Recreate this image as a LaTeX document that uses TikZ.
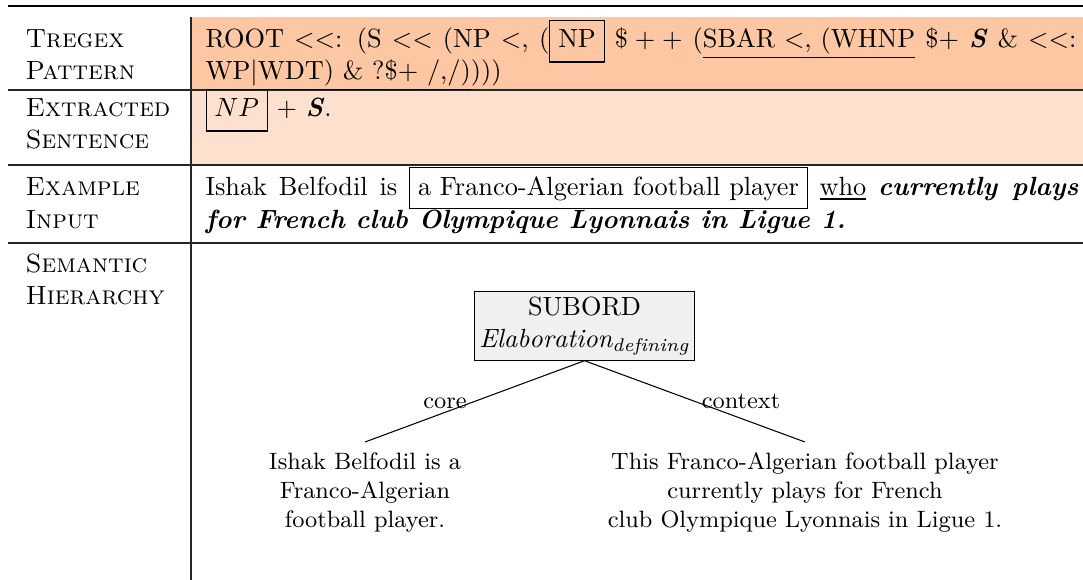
\documentclass[tikz,border=0pt]{standalone}
\usepackage{fontspec}
\definecolor{rowA}{RGB}{252,199,162}
\definecolor{rowB}{RGB}{253,225,206}
\definecolor{boxgray}{RGB}{240,240,240}
\newlength\pxu
\setlength\pxu{0.38pt}
\newcommand\bfit[1]{\textbf{\textit{#1}}}
\newcommand\llt{\textless\kern0pt\textless}
\newcommand\dfbox[1]{\fbox{#1\rule[-2.5pt]{0pt}{2.5pt}}}
\begin{document}
\begin{tikzpicture}[x=0.38pt,y=-0.38pt,
  txt/.style={anchor=base west,inner sep=0pt},
  lbl/.style={anchor=base west,inner sep=0pt,font=\scshape},
  rule/.style={line width=0.4pt,black!85},
  relbox/.style={draw,fill=boxgray,align=center,minimum width=205\pxu,minimum height=68\pxu,inner sep=2pt},
  leaf/.style={align=center,inner sep=0pt,anchor=north,font=\small},
  elabel/.style={inner sep=0pt,anchor=base,font=\small}]
\useasboundingbox (0,0) rectangle (1083,580);
% fills
\fill[rowA] (191,17) rectangle (1083,90);
\fill[rowB] (191,90) rectangle (1083,165);
% rules
\draw[line width=0.9pt] (8,6) -- (1083,6);
\draw[rule] (8,90) -- (1083,90);
\draw[rule] (8,165) -- (1083,165);
\draw[rule] (8,243) -- (1083,243);
\draw[rule] (191,17) -- (191,580);
% left column
\node[lbl] (l1a) at (25,47) {Tregex};
\node[lbl] (l1b) at (25,79) {Pattern};
\node[lbl] (l2a) at (25,116) {Extracted};
\node[lbl] (l2b) at (25,148) {Sentence};
\node[lbl] (l3a) at (25,195) {Example};
\node[lbl] (l3b) at (25,228) {Input};
\node[lbl] (l4a) at (25,272) {Semantic};
\node[lbl] (l4b) at (25,304) {Hierarchy};
% row 1
\node[txt] (p1) at (205,47) {\makebox[871\pxu][s]{ROOT \llt: (S \llt\ (NP \textless, (\dfbox{NP} $\$++$ (\underline{SBAR \textless, (WHNP} \$+ \bfit{S} \& \llt:}};
\node[txt] (p2) at (205,79) {\underline{WP|WDT) \& ?\$+ /,/)})))};
% row 2
\node[txt] (e1) at (205,116) {\dfbox{$NP$} $+$ \bfit{S}.};
% row 3
\node[txt] (i1) at (205,195) {\makebox[873\pxu][s]{Ishak Belfodil is \fbox{a Franco-Algerian football player} \underline{who} \bfit{currently plays}}};
\node[txt] (i2) at (205,228) {\bfit{for French club Olympique Lyonnais in Ligue 1.}};
% tree
\node[relbox] (root) at (584.5,326) {SUBORD\\$\mathit{Elaboration}_{\mathit{defining}}$};
\coordinate (lc) at (365,442);
\coordinate (rc) at (805,442);
\draw (root.south) -- (lc);
\draw (root.south) -- (rc);
\node[elabel] (core) at (445,408) {core};
\node[elabel] (ctx) at (741,408) {context};
\node[leaf] (leftleaf) at (365,452) {Ishak Belfodil is a\\Franco-Algerian\\football player.};
\node[leaf] (rightleaf) at (805,452) {This Franco-Algerian football player\\currently plays for French\\club Olympique Lyonnais in Ligue 1.};
\end{tikzpicture}
\end{document}
